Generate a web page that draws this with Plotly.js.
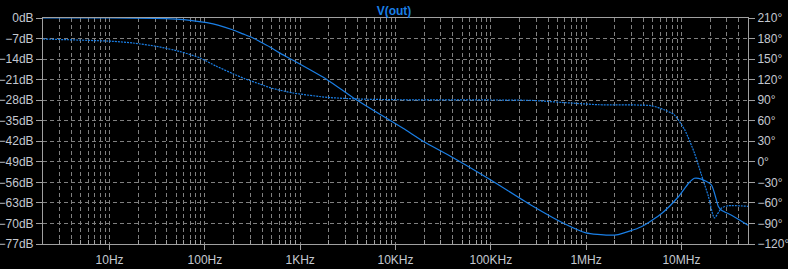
<!DOCTYPE html>
<html><head><meta charset="utf-8">
<script src="https://cdn.plot.ly/plotly-3.0.1.min.js"></script>
<style>html,body{margin:0;padding:0;background:#000;}#c{width:788px;height:269px;}</style>
</head><body><div id="c"></div>
<script>
// Magnitude (dB) of V(out)
const magFreq = [2, 10, 30, 50, 70, 105, 140, 195, 250, 320, 375, 500, 600, 843, 1920, 3800, 12000, 19700, 40700, 100000, 263000, 586000, 1000000, 1700000, 2170000, 3800000, 6200000, 9300000, 11900000, 13700000, 16200000, 20700000, 24500000, 26400000, 33600000, 50000000];
const magDb = [0, 0, -0.1, -0.4, -0.8, -1.6, -2.5, -4.0, -5.4, -6.8, -8.0, -10.2, -11.8, -14.4, -21.0, -27.7, -37.6, -42.1, -47.7, -55.2, -63.7, -70.0, -73.2, -74.0, -73.8, -71.1, -66.6, -60.9, -56.3, -54.6, -54.9, -56.9, -64.3, -65.5, -67.2, -70.6];
// Phase (degrees) of V(out)
const phFreq = [2, 10.7, 17.5, 31, 55, 89, 130, 197, 260, 379, 500, 843, 1920, 3900, 9600, 263000, 546000, 1340000, 4800000, 6600000, 8400000, 10800000, 13700000, 16200000, 19200000, 22200000, 26400000, 31300000, 50000000];
const phDeg = [179.3, 176, 173.5, 168.6, 161, 151.6, 140, 128.7, 121.5, 113.5, 107.6, 100.5, 94.1, 91.8, 90.7, 89.7, 86.8, 83.4, 82, 76, 68.8, 47, 13, -18.8, -50.4, -82, -67.4, -64, -65];
const xTickVals = [10, 100, 1000, 10000, 100000, 1000000, 10000000];
const xTickText = ['10Hz', '100Hz', '1KHz', '10KHz', '100KHz', '1MHz', '10MHz'];
const traceName = 'V(out)';

const blue = '#1a7fe6';
const labelColor = '#c4c8d0';
const gridColor = '#808080';
const fnt = {family: 'Liberation Sans, Arial, sans-serif', size: 12, color: labelColor};
const gdash = '4px,3px';

const minorVals = [];
for (let e = 0; e < 8; e++) { for (let m = 2; m <= 9; m++) { const v = m * Math.pow(10, e); if (v > 2 && v < 5e7) minorVals.push(v); } }

const data = [
  {x: magFreq, y: magDb, type: 'scatter', mode: 'lines', line: {color: blue, width: 1.2, shape: 'spline', smoothing: 0.6}, yaxis: 'y', name: traceName},
  {x: phFreq, y: phDeg, type: 'scatter', mode: 'lines', line: {color: blue, width: 1.2, dash: '2px,1px', shape: 'spline', smoothing: 0.6}, yaxis: 'y2', name: traceName}
];

const layout = {
  width: 788, height: 269,
  paper_bgcolor: '#000', plot_bgcolor: '#000',
  margin: {l: 43, r: 40, t: 18, b: 25},
  showlegend: false,
  font: fnt,
  title: {text: '<b>' + traceName + '</b>', font: {family: 'Liberation Sans, Arial, sans-serif', size: 12, color: blue}, x: 0.5, xanchor: 'center', y: 1, yref: 'paper', yanchor: 'bottom', pad: {b: 3}},
  xaxis: {
    type: 'log', range: [Math.log10(2), Math.log10(50e6)],
    tickvals: xTickVals, ticktext: xTickText,
    showline: true, linecolor: '#a0a0a0', linewidth: 1, mirror: true,
    ticks: 'outside', ticklen: 5, tickcolor: '#a0a0a0',
    showgrid: true, gridcolor: gridColor, griddash: gdash, gridwidth: 1,
    minor: {tickvals: minorVals, ticks: 'inside', ticklen: 4, tickcolor: '#a0a0a0', showgrid: true, gridcolor: gridColor, griddash: gdash, gridwidth: 1},
    zeroline: false, tickfont: fnt
  },
  yaxis: {
    range: [-77, 0], dtick: 7, tick0: 0, ticksuffix: 'dB',
    showline: true, linecolor: '#a0a0a0', linewidth: 1,
    ticks: 'outside', ticklen: 6, tickcolor: '#a0a0a0',
    showgrid: true, gridcolor: gridColor, griddash: gdash, gridwidth: 1,
    zeroline: false, tickfont: fnt
  },
  yaxis2: {
    range: [-120, 210], dtick: 30, tick0: 0, ticksuffix: '°',
    overlaying: 'y', side: 'right',
    showline: true, linecolor: '#a0a0a0', linewidth: 1,
    ticks: 'outside', ticklen: 6, tickcolor: '#a0a0a0',
    showgrid: false, zeroline: false, tickfont: fnt
  }
};
Plotly.newPlot('c', data, layout, {displayModeBar: false, staticPlot: true});
</script></body></html>
